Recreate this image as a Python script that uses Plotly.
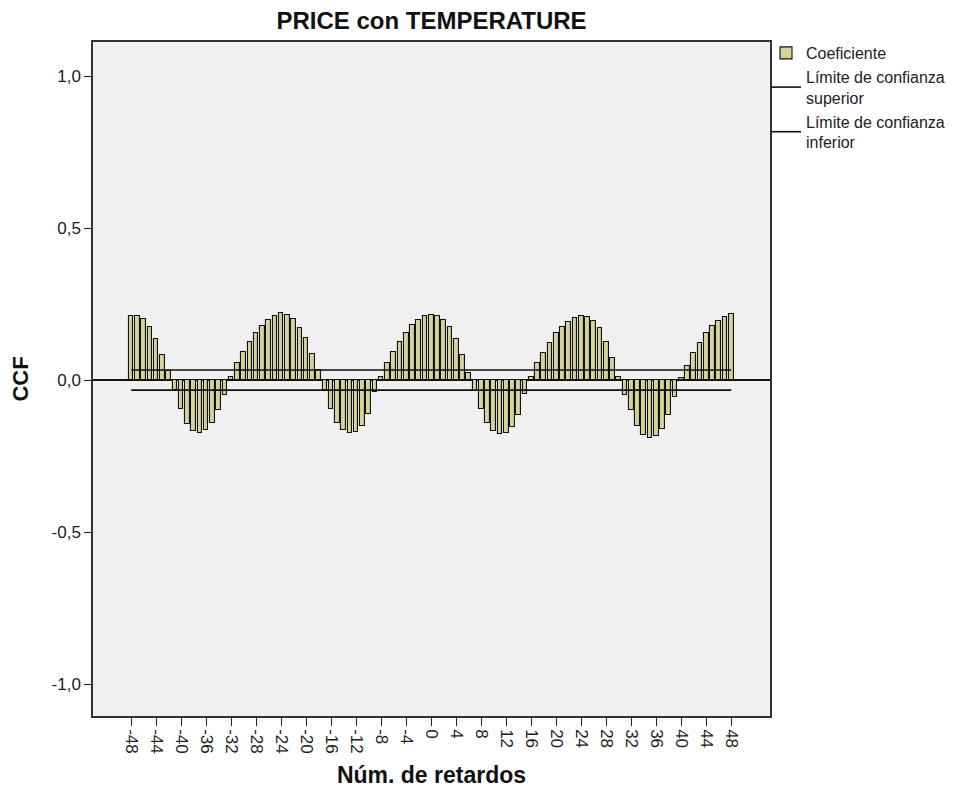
import plotly.graph_objects as go

# ---- data ----
lags = list(range(-48, 49))
ccf = [
    0.211, 0.211, 0.200, 0.173, 0.134, 0.084, 0.031,            # -48..-42
    -0.033, -0.096, -0.143, -0.168, -0.175, -0.165, -0.140, -0.100, -0.050,  # -41..-33
    0.011, 0.055, 0.091, 0.126, 0.156, 0.179, 0.197, 0.211, 0.219, 0.214,
    0.201, 0.172, 0.137, 0.085, 0.033,                          # -32..-18
    -0.033, -0.096, -0.140, -0.165, -0.175, -0.170, -0.150, -0.110, -0.040,  # -17..-9
    0.011, 0.057, 0.093, 0.126, 0.154, 0.181, 0.197, 0.211, 0.214, 0.211,
    0.197, 0.173, 0.134, 0.082, 0.024,                          # -8..6
    -0.036, -0.096, -0.140, -0.168, -0.178, -0.175, -0.155, -0.115, -0.045,  # 7..15
    0.009, 0.055, 0.088, 0.123, 0.154, 0.175, 0.192, 0.203, 0.210, 0.209,
    0.195, 0.170, 0.126, 0.072, 0.009,                          # 16..30
    -0.049, -0.099, -0.150, -0.180, -0.192, -0.185, -0.160, -0.115, -0.055,  # 31..39
    0.006, 0.046, 0.088, 0.123, 0.154, 0.178, 0.195, 0.208, 0.217,  # 40..48
]
upper_limit = [0.033] * len(lags)
lower_limit = [-0.033] * len(lags)
x_ticks = list(range(-48, 49, 4))
y_ticks = [-1.0, -0.5, 0.0, 0.5, 1.0]
y_tick_labels = ["-1,0", "-0,5", "0,0", "0,5", "1,0"]

title_text = "PRICE con TEMPERATURE"
x_title = "Núm. de retardos"
y_title = "CCF"
legend_names = ["Coeficiente", "Límite de confianza<br>superior", "Límite de confianza<br>inferior"]

FONT = "Liberation Sans, Arial, sans-serif"

# page body has an 8px margin: figure is sized to fit the 966x796 window
W, H = 950, 780
L, R, T, B = 85, 188, 34, 72
PW, PH = W - L - R, H - T - B

fig = go.Figure()
fig.add_trace(go.Bar(
    x=lags, y=ccf, name=legend_names[0], width=0.74,
    marker=dict(color="#d6d29c", line=dict(color="#111111", width=1.1)),
))
fig.add_trace(go.Scatter(
    x=lags, y=upper_limit, mode="lines", name=legend_names[1],
    line=dict(color="#111111", width=1.6),
))
fig.add_trace(go.Scatter(
    x=lags, y=lower_limit, mode="lines", name=legend_names[2],
    line=dict(color="#111111", width=1.6),
))

fig.update_layout(
    width=W, height=H,
    margin=dict(l=L, r=R, t=T, b=B, autoexpand=False),
    paper_bgcolor="white",
    plot_bgcolor="#f0f0f0",
    font=dict(family=FONT, color="#222222", size=16),
    title=dict(text="<b>" + title_text + "</b>", x=(L + (W - R)) / 2 / W, xanchor="center",
               y=1 - 13 / H, yanchor="middle", font=dict(size=24, color="#111111")),
    showlegend=True,
    legend=dict(x=1.0 - 4 / PW, xanchor="left", y=1.0 + 6 / PH, yanchor="top",
                bgcolor="rgba(0,0,0,0)", font=dict(size=16, color="#222222"),
                tracegroupgap=0, itemwidth=30),
    bargap=0,
)
fig.update_xaxes(
    range=[-54.1, 54.2], tickmode="array", tickvals=x_ticks,
    ticktext=[str(v) for v in x_ticks], tickangle=90,
    ticks="outside", ticklen=8, tickcolor="#222222", tickwidth=1.3,
    tickfont=dict(size=17, family=FONT, color="#222222"),
    showgrid=False, zeroline=False, automargin=False,
    showline=True, linecolor="#333333", linewidth=1.5, mirror=True,
    title=dict(text="<b>" + x_title + "</b>", font=dict(size=23, color="#111111"), standoff=18),
)
fig.update_yaxes(
    range=[-1.105, 1.112], tickmode="array", tickvals=y_ticks, ticktext=y_tick_labels,
    ticks="outside", ticklen=7, tickcolor="#222222", tickwidth=1.3,
    tickfont=dict(size=17, family=FONT, color="#222222"),
    showgrid=False, zeroline=True, zerolinecolor="#111111", zerolinewidth=1.6,
    automargin=False,
    showline=True, linecolor="#333333", linewidth=1.5, mirror=True,
    title=dict(text="<b>" + y_title + "</b>", font=dict(size=22, color="#111111"), standoff=18),
)

fig.write_html("out.html")
